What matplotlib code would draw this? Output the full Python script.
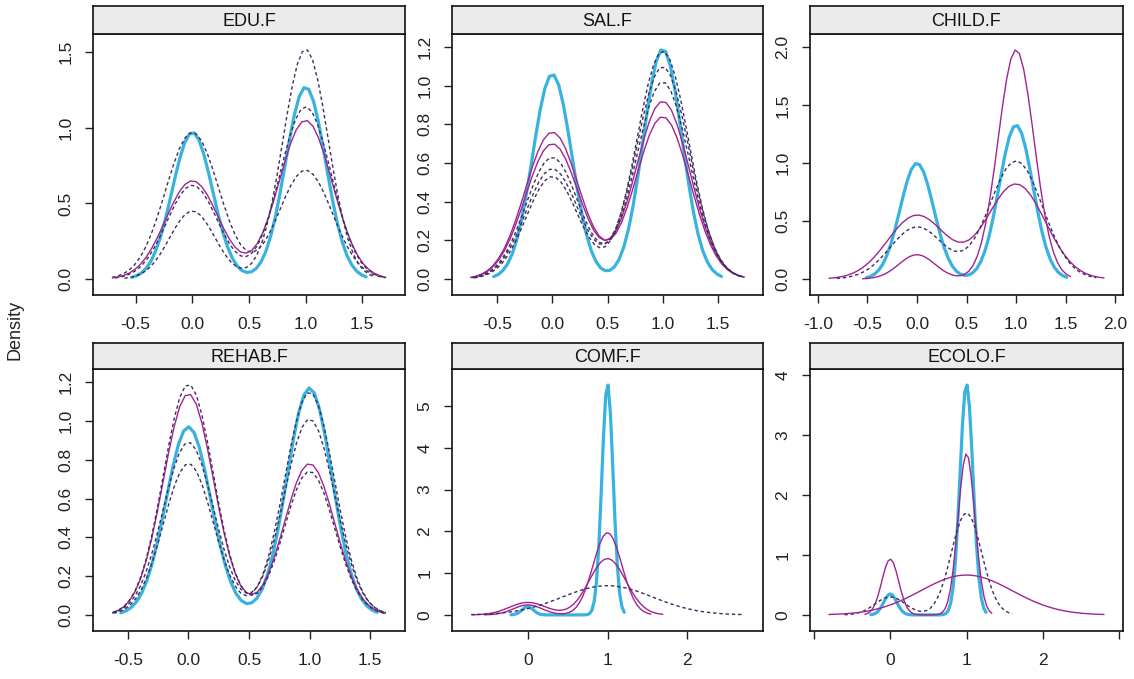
import numpy as np
import matplotlib
matplotlib.use("Agg")
import matplotlib.pyplot as plt

plt.rcParams['font.family'] = ['Liberation Sans', 'DejaVu Sans']

# ---------------- data ----------------
panel_names = ["EDU.F", "SAL.F", "CHILD.F", "REHAB.F", "COMF.F", "ECOLO.F"]

# observed data: kernel peak height at value 0 and at value 1, and bandwidth
obs_peak0 = [0.97, 1.06, 1.00, 0.97, 0.20, 0.35]
obs_peak1 = [1.27, 1.19, 1.33, 1.17, 5.53, 3.85]
obs_bw = [0.178, 0.177, 0.170, 0.186, 0.070, 0.085]

# imputed data sets (one entry per imputation)
imp_peak0 = [[0.97, 0.65, 0.62, 0.45],
             [0.76, 0.70, 0.63, 0.57, 0.53],
             [0.55, 0.45, 0.21],
             [1.14, 1.19, 0.89, 0.78],
             [0.24, 0.30, 0.00],
             [0.93, 0.30, 0.00]]
imp_peak1 = [[0.72, 1.05, 1.14, 1.52],
             [0.84, 0.92, 1.02, 1.10, 1.18],
             [0.82, 1.02, 1.98],
             [0.78, 0.74, 1.01, 1.15],
             [1.97, 1.35, 0.70],
             [2.69, 1.70, 0.665]]
imp_bw = [[0.236, 0.235, 0.227, 0.200],
          [0.245, 0.245, 0.240, 0.240, 0.235],
          [0.295, 0.270, 0.182],
          [0.208, 0.207, 0.210, 0.206],
          [0.180, 0.230, 0.570],
          [0.110, 0.200, 0.600]]
imp_dashed = [[True, False, True, True],
              [False, False, True, True, True],
              [False, True, False],
              [False, True, True, True],
              [False, False, True],
              [False, True, False]]

x_ticks = [[-0.5, 0.0, 0.5, 1.0, 1.5],
           [-0.5, 0.0, 0.5, 1.0, 1.5],
           [-1.0, -0.5, 0.0, 0.5, 1.0, 1.5, 2.0],
           [-0.5, 0.0, 0.5, 1.0, 1.5],
           [0, 1, 2],
           [-1, 0, 1, 2, 3]]
x_tick_labels = [["-0.5", "0.0", "0.5", "1.0", "1.5"],
                 ["-0.5", "0.0", "0.5", "1.0", "1.5"],
                 ["-1.0", "-0.5", "0.0", "0.5", "1.0", "1.5", "2.0"],
                 ["-0.5", "0.0", "0.5", "1.0", "1.5"],
                 ["0", "1", "2"],
                 ["", "0", "1", "2", ""]]
y_ticks = [[0.0, 0.5, 1.0, 1.5],
           [0.0, 0.2, 0.4, 0.6, 0.8, 1.0, 1.2],
           [0.0, 0.5, 1.0, 1.5, 2.0],
           [0.0, 0.2, 0.4, 0.6, 0.8, 1.0, 1.2],
           [0, 1, 2, 3, 4, 5],
           [0, 1, 2, 3, 4]]
y_tick_labels = [["0.0", "0.5", "1.0", "1.5"],
                 ["0.0", "0.2", "0.4", "0.6", "0.8", "1.0", "1.2"],
                 ["0.0", "0.5", "1.0", "1.5", "2.0"],
                 ["0.0", "0.2", "0.4", "0.6", "0.8", "1.0", "1.2"],
                 ["0", "1", "2", "3", "4", "5"],
                 ["0", "1", "2", "3", "4"]]

y_label = "Density"

# ---------------- styling ----------------
OBS_COL = "#38B2DE"
IMP_COL = "#A02490"
IMP_DASH_COL = "#3E2E5E"
STRIP_COL = "#EBEBEB"
FS = 12.5

W, H = 1134, 679
fig = plt.figure(figsize=(W / 100, H / 100), dpi=100)

col_x = [(93, 405), (452, 763), (810, 1123)]
row_y = [((6, 34), (34, 295)), ((343, 369), (369, 631))]


def kde(p0, p1, bw, n=50):
    # gaussian kernel density of point masses at 0 and 1 (lattice: cut = 3, n = 50)
    lo = (0.0 if p0 > 0 else 1.0) - 3 * bw
    hi = (1.0 if p1 > 0 else 0.0) + 3 * bw
    x = np.linspace(lo, hi, n)
    y = p0 * np.exp(-0.5 * (x / bw) ** 2) + p1 * np.exp(-0.5 * ((x - 1) / bw) ** 2)
    return x, y


def px_box(x0, x1, y0, y1):
    return [x0 / W, 1 - y1 / H, (x1 - x0) / W, (y1 - y0) / H]


for i, name in enumerate(panel_names):
    r, c = divmod(i, 3)
    (sy0, sy1), (py0, py1) = row_y[r]
    x0, x1 = col_x[c]

    ax = fig.add_axes(px_box(x0, x1, py0, py1))
    sax = fig.add_axes(px_box(x0, x1, sy0, sy1))

    curves = [kde(obs_peak0[i], obs_peak1[i], obs_bw[i])]
    xo, yo = curves[0]
    ax.plot(xo, yo, color=OBS_COL, lw=2.3, zorder=2, solid_capstyle='round')
    for p0, p1, bw, dashed in zip(imp_peak0[i], imp_peak1[i], imp_bw[i], imp_dashed[i]):
        xi, yi = kde(p0, p1, bw)
        curves.append((xi, yi))
        if dashed:
            ax.plot(xi, yi, color=IMP_DASH_COL, lw=1.0, ls=(0, (2.5, 2)), zorder=3)
        else:
            ax.plot(xi, yi, color=IMP_COL, lw=1.0, zorder=3)

    xmin = min(cx.min() for cx, cy in curves)
    xmax = max(cx.max() for cx, cy in curves)
    ymax = max(cy.max() for cx, cy in curves)
    xr = xmax - xmin
    ax.set_xlim(xmin - 0.07 * xr, xmax + 0.07 * xr)
    ax.set_ylim(-0.07 * ymax, ymax * 1.07)

    ax.set_xticks(x_ticks[i])
    ax.set_xticklabels(x_tick_labels[i], fontsize=FS, color="#222222")
    ax.set_yticks(y_ticks[i])
    ax.set_yticklabels(y_tick_labels[i], fontsize=FS, color="#222222",
                       rotation=90, va='center', ha='right')
    ax.tick_params(axis='both', direction='out', length=6, width=1.0,
                   color="#222222")
    ax.tick_params(axis='x', pad=10)
    ax.tick_params(axis='y', pad=8)
    for sp in ax.spines.values():
        sp.set_linewidth(1.2)
        sp.set_color("#111111")

    sax.set_facecolor(STRIP_COL)
    sax.set_xticks([])
    sax.set_yticks([])
    for sp in sax.spines.values():
        sp.set_linewidth(1.2)
        sp.set_color("#111111")
    sax.text(0.5, 0.45, name, ha='center', va='center', fontsize=FS + 0.5,
             transform=sax.transAxes, color="#111111")

fig.text(15 / W, 1 - 330 / H, y_label, rotation=90, ha='center', va='center',
         fontsize=FS + 0.5, color="#222222")

fig.savefig("out.png", dpi=100)
